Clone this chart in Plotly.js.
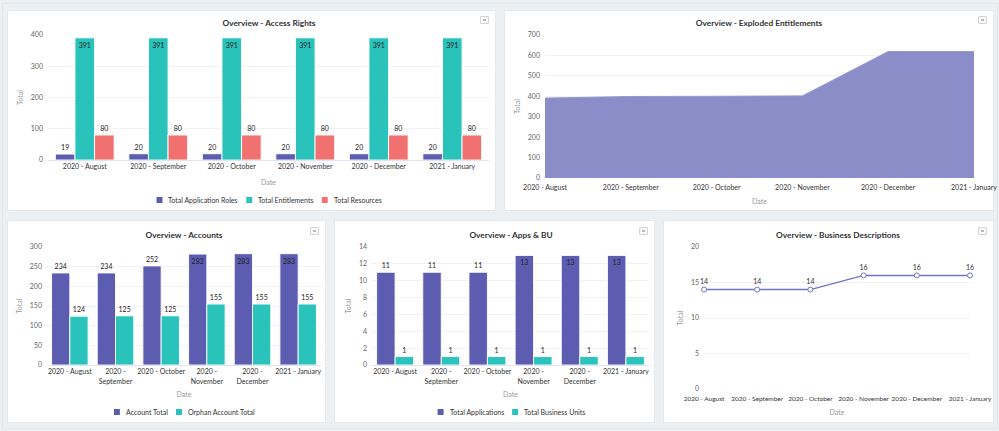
<!DOCTYPE html>
<html>
<head>
<meta charset="utf-8">
<script src="https://cdn.plot.ly/plotly-3.0.1.min.js"></script>
<style>
  html, body { margin: 0; padding: 0; }
  body { width: 999px; height: 431px; background: #edf0f2; position: relative; overflow: hidden; font-family: Lato, "Open Sans", sans-serif; }
  .frame { position: absolute; left: 2px; top: 3px; width: 996px; height: 426px; border: 1px solid #e2e6e9; box-sizing: border-box; }
  .panel { position: absolute; background: #fff; border: 1px solid #e6e9ec; box-sizing: border-box; overflow: visible; }
  .panel .main-svg { overflow: visible !important; }
  .menu { position: absolute; width: 9px; height: 8px; border: 1px solid #d4d4d4; border-radius: 1px; box-sizing: border-box; background: #fafafa; z-index: 5; }
  .menu::after { content: ""; position: absolute; left: 2px; top: 2px; width: 3px; height: 2px; background: #bbb; }
</style>
</head>
<body>
<div class="frame"></div>
<div id="p1" class="panel" style="left:7px;top:10px;width:489px;height:201px;"></div>
<div id="p2" class="panel" style="left:504px;top:10px;width:490px;height:201px;"></div>
<div id="p3" class="panel" style="left:7px;top:220px;width:319px;height:203px;"></div>
<div id="p4" class="panel" style="left:334px;top:220px;width:321px;height:203px;"></div>
<div id="p5" class="panel" style="left:663px;top:220px;width:331px;height:203px;"></div>
<div class="menu" style="left:480px;top:16px;"></div>
<div class="menu" style="left:978px;top:16px;"></div>
<div class="menu" style="left:310px;top:227px;"></div>
<div class="menu" style="left:639px;top:227px;"></div>
<div class="menu" style="left:978px;top:227px;"></div>
<script>
// ---------- DATA ----------
const dates = ['2020 - August', '2020 - September', '2020 - October', '2020 - November', '2020 - December', '2021 - January'];
const wrappedDates = ['2020 - August', '2020 -<br>September', '2020 - October', '2020 -<br>November', '2020 -<br>December', '2021 - January'];

const appRoles = [19, 20, 20, 20, 20, 20];
const entitlements = [391, 391, 391, 391, 391, 391];
const resources = [80, 80, 80, 80, 80, 80];

const explodedEntitlements = [391, 399, 400, 402, 619, 619];

const accountTotal = [234, 234, 252, 282, 283, 283];
const orphanAccountTotal = [124, 125, 125, 155, 155, 155];

const totalApplications = [11, 11, 11, 13, 13, 13];
const totalBusinessUnits = [1, 1, 1, 1, 1, 1];

const businessDescriptions = [14, 14, 14, 16, 16, 16];

// ---------- STYLE ----------
const PURPLE = '#5c5db1';
const TEAL = '#2ac3bb';
const RED = '#f17171';
const AREA = '#8a8dc7';
const LINE = '#7073c6';
const FONT = 'Lato, "Open Sans", sans-serif';
const cfg = { displayModeBar: false, staticPlot: true };

function posFor(vals, ymax) {
  return vals.map(v => (v / ymax > 0.9 ? 'inside' : 'outside'));
}

function barTrace(name, vals, color, ymax) {
  return {
    type: 'bar', name: name, x: dates, y: vals,
    marker: { color: color, line: { color: 'rgba(255,255,255,0.9)', width: 1 } },
    text: vals.map(String), textposition: posFor(vals, ymax),
    insidetextanchor: 'end', constraintext: 'none', cliponaxis: false,
    textfont: { size: 7, color: '#222', family: FONT },
    insidetextfont: { size: 7, color: '#222', family: FONT },
    outsidetextfont: { size: 7, color: '#222', family: FONT },
    showlegend: false, hoverinfo: 'none'
  };
}

// Legend drawn as marker squares + text, laid out from measured text widths
function legendParts(o, items) {
  const ctx = document.createElement('canvas').getContext('2d');
  ctx.font = '7px Lato';
  const MK = 6, GAP = 4, SEP = 10;
  const widths = items.map(it => ctx.measureText(it.name).width);
  const total = widths.reduce((s, w) => s + MK + GAP + w, 0) + SEP * (items.length - 1);
  const pw = o.w - o.l - o.r, ph = o.h - o.t - o.b;
  const fx = px => (px - o.l) / pw;
  const fy = py => 1 - (py - o.t) / ph;
  let x = o.legX - total / 2;
  const shapes = [], annotations = [];
  items.forEach((it, i) => {
    shapes.push({
      type: 'rect', xref: 'paper', yref: 'paper',
      x0: fx(x), x1: fx(x + MK), y0: fy(o.legY + MK / 2), y1: fy(o.legY - MK / 2),
      fillcolor: it.color, line: { width: 0 }
    });
    annotations.push({
      xref: 'paper', yref: 'paper', x: fx(x + MK + GAP), y: fy(o.legY),
      xanchor: 'left', yanchor: 'middle', showarrow: false, text: it.name,
      font: { size: 7, color: '#333', family: FONT }
    });
    x += MK + GAP + widths[i] + SEP;
  });
  return { shapes, annotations };
}

function baseLayout(o) {
  const leg = o.legend ? legendParts(o, o.legend) : { shapes: [], annotations: [] };
  return {
    width: o.w, height: o.h,
    margin: { l: o.l, r: o.r, t: o.t, b: o.b, pad: 0 },
    paper_bgcolor: 'rgba(0,0,0,0)', plot_bgcolor: '#fff',
    font: { family: FONT, size: 7, color: '#333' },
    title: {
      text: o.title, x: o.tx / o.w, xanchor: 'center', xref: 'container',
      y: 1 - o.ty / o.h, yanchor: 'middle', yref: 'container',
      font: { family: FONT, size: 8.3, color: '#333', weight: 'bold' }
    },
    xaxis: {
      type: 'category', categoryorder: 'array', categoryarray: dates,
      tickvals: dates, ticktext: o.ticktext || dates, tickangle: 0,
      tickfont: { size: o.xfs || 7, color: '#333' }, ticks: '', showgrid: false, zeroline: false,
      showline: o.xline || false, linecolor: '#dfe5f0', linewidth: 1,
      ticklabelstandoff: o.xlabOff || 0,
      range: o.xrange, fixedrange: true,
      title: { text: 'Date', font: { size: 7, color: '#999' }, standoff: o.xstand || 6 }
    },
    yaxis: {
      range: o.yrange, dtick: o.dtick, tickfont: { size: 7, color: '#666' },
      gridcolor: '#f2f2f2', gridwidth: 1, zeroline: false, showline: false, ticks: '',
      ticklabelstandoff: 4, fixedrange: true,
      title: { text: 'Total', font: { size: 7, color: '#999' }, standoff: 6 }
    },
    bargap: 0.2, bargroupgap: 0,
    showlegend: false,
    shapes: leg.shapes,
    annotations: leg.annotations
  };
}

// Panel 1: Access Rights
Plotly.newPlot('p1', [
  barTrace('Total Application Roles', appRoles, PURPLE, 400),
  barTrace('Total Entitlements', entitlements, TEAL, 400),
  barTrace('Total Resources', resources, RED, 400)
], baseLayout({
  w: 489, h: 201, l: 40, r: 8, t: 24, b: 52, title: 'Overview - Access Rights', tx: 261, ty: 12,
  yrange: [0, 400], dtick: 100, xline: true, xstand: 10,
  legX: 260, legY: 189,
  legend: [
    { name: 'Total Application Roles', color: PURPLE },
    { name: 'Total Entitlements', color: TEAL },
    { name: 'Total Resources', color: RED }
  ]
}), cfg);

// Panel 2: Exploded Entitlements
Plotly.newPlot('p2', [{
  type: 'scatter', mode: 'lines', x: dates, y: explodedEntitlements,
  fill: 'tozeroy', fillcolor: AREA, line: { color: '#9598d0', width: 1 },
  showlegend: false, hoverinfo: 'none'
}], baseLayout({
  w: 490, h: 201, l: 40, r: 21, t: 24, b: 34, title: 'Overview - Exploded Entitlements', tx: 254, ty: 12,
  yrange: [0, 700], dtick: 100, xrange: [0, 5], xline: false, xstand: 9, xlabOff: 4
}), cfg);

// Panel 3: Accounts
Plotly.newPlot('p3', [
  barTrace('Account Total', accountTotal, PURPLE, 300),
  barTrace('Orphan Account Total', orphanAccountTotal, TEAL, 300)
], baseLayout({
  w: 319, h: 203, l: 39, r: 6, t: 26, b: 59, title: 'Overview - Accounts', tx: 176, ty: 14,
  yrange: [0, 300], dtick: 50, ticktext: wrappedDates, xline: true, xstand: 8,
  legX: 175.5, legY: 191,
  legend: [
    { name: 'Account Total', color: PURPLE },
    { name: 'Orphan Account Total', color: TEAL }
  ]
}), cfg);

// Panel 4: Apps & BU
Plotly.newPlot('p4', [
  barTrace('Total Applications', totalApplications, PURPLE, 14),
  barTrace('Total Business Units', totalBusinessUnits, TEAL, 14)
], baseLayout({
  w: 321, h: 203, l: 37, r: 7, t: 26, b: 59, title: 'Overview - Apps & BU', tx: 176, ty: 14,
  yrange: [0, 14], dtick: 2, ticktext: wrappedDates, xline: true, xstand: 8,
  legX: 175.5, legY: 191,
  legend: [
    { name: 'Total Applications', color: PURPLE },
    { name: 'Total Business Units', color: TEAL }
  ]
}), cfg);

// Panel 5: Business Descriptions
Plotly.newPlot('p5', [{
  type: 'scatter', mode: 'lines+markers+text', x: dates, y: businessDescriptions,
  line: { color: LINE, width: 1.5 },
  marker: { symbol: 'circle', size: 5, color: '#fff', line: { color: LINE, width: 1 } },
  text: businessDescriptions.map(String), textposition: 'top center',
  textfont: { size: 7, color: '#333' }, cliponaxis: false,
  showlegend: false, hoverinfo: 'none'
}], baseLayout({
  w: 331, h: 203, l: 40, r: 25, t: 26, b: 35, title: 'Overview - Business Descriptions', tx: 174, ty: 14,
  yrange: [0, 20], dtick: 5, xrange: [0, 5], xline: false, xstand: 9, xlabOff: 4, xfs: 6.5
}), cfg);
</script>
</body>
</html>
